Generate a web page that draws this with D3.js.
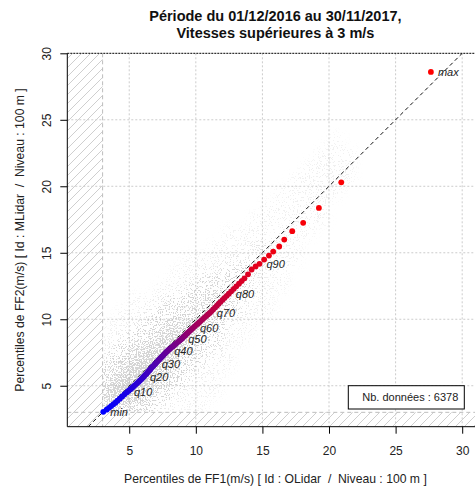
<!DOCTYPE html>
<html><head><meta charset="utf-8">
<script src="https://cdn.jsdelivr.net/npm/d3@7"></script>
<style>
html,body{margin:0;padding:0;background:#fff;}
svg{display:block;font-family:"Liberation Sans",Arial,sans-serif;}
</style></head>
<body><div id="chart"></div>
<script>
// ---- data ----
const titleLines = ["Période du 01/12/2016 au 30/11/2017,", "Vitesses supérieures à 3 m/s"];
const xTitle = "Percentiles de FF1(m/s) [ Id : OLidar  /  Niveau : 100 m ]";
const yTitle = "Percentiles de FF2(m/s) [ Id : MLidar  /  Niveau : 100 m ]";
const tickValues = [5, 10, 15, 20, 25, 30];
const threshold = 3;
const nData = 6378;
const legendText = "Nb. données : " + nData;

// percentiles 0..100 of FF1 (x) and FF2 (y)
const pctX = [3.05,3.30,3.48,3.64,3.80,3.96,4.12,4.29,4.47,4.65,4.83,
  4.96,5.09,5.22,5.34,5.46,5.58,5.70,5.81,5.92,6.03,
  6.12,6.21,6.30,6.38,6.47,6.56,6.64,6.73,6.82,6.91,
  7.00,7.09,7.18,7.28,7.37,7.47,7.56,7.66,7.75,7.85,
  7.95,8.06,8.16,8.27,8.37,8.48,8.58,8.69,8.79,8.90,
  8.98,9.07,9.16,9.25,9.33,9.42,9.51,9.60,9.69,9.78,
  9.90,10.02,10.15,10.27,10.40,10.53,10.65,10.78,10.91,11.04,
  11.17,11.30,11.44,11.58,11.72,11.86,12.01,12.16,12.32,12.48,
  12.66,12.85,13.04,13.24,13.44,13.65,13.92,14.19,14.49,14.78,
  15.13,15.49,15.81,16.26,16.64,17.24,18.06,19.24,20.92,27.65];
const pctY = [3.04,3.20,3.34,3.47,3.60,3.73,3.88,4.03,4.19,4.36,4.52,
  4.63,4.74,4.85,4.96,5.07,5.18,5.29,5.40,5.51,5.62,
  5.72,5.82,5.91,6.01,6.11,6.21,6.31,6.41,6.50,6.60,
  6.70,6.80,6.90,7.00,7.10,7.20,7.30,7.40,7.50,7.60,
  7.69,7.78,7.87,7.96,8.05,8.14,8.23,8.32,8.41,8.50,
  8.58,8.67,8.75,8.84,8.92,9.00,9.09,9.17,9.26,9.34,
  9.45,9.56,9.67,9.78,9.90,10.01,10.13,10.24,10.36,10.47,
  10.60,10.74,10.88,11.02,11.17,11.31,11.46,11.61,11.76,11.92,
  12.10,12.29,12.48,12.67,12.87,13.08,13.38,13.74,13.97,14.17,
  14.49,14.79,15.09,15.47,15.99,16.62,17.25,18.37,20.30,28.60];
const labelIdx = [0,10,20,30,40,50,60,70,80,90,100];
const labelText = ["min","q10","q20","q30","q40","q50","q60","q70","q80","q90","max"];

// raw-data cloud: point coverage level (0-9) in 1 m/s cells, rows y = 3..23, columns x = 3..22
const cloudX0 = 3, cloudY0 = 3;
const cloudRows = [
  "87642111000000000000",
  "79864211100000000000",
  "68986421100000000000",
  "46898532110000000000",
  "24688753210000000000",
  "12457864311000000000",
  "11235675421100000000",
  "01123456532110000000",
  "00112345542110000000",
  "00001123443211000000",
  "00000112233211000000",
  "00000011122221100000",
  "00000000111221100000",
  "00000000011111110000",
  "00000000000111111000",
  "00000000000011111000",
  "00000000000001111100",
  "00000000000000111110",
  "00000000000000011110",
  "00000000000000001110",
  "00000000000000000100"];
const coverage = [0, 0.06, 0.11, 0.18, 0.28, 0.4, 0.52, 0.64, 0.76, 0.88];

// ---- layout ----
const W = 475, H = 488;
const L = 67.3, R = 483.5, T = 53.3, B = 426.7;
const xDom = [0.35, 31.6], yDom = [1.92, 30];

const svg = d3.select("#chart").append("svg").attr("width", W).attr("height", H);
const x = d3.scaleLinear().domain(xDom).range([L, R]);
const y = d3.scaleLinear().domain(yDom).range([B, T]);

const defs = svg.append("defs");
defs.append("clipPath").attr("id","plotclip").append("rect")
  .attr("x", L).attr("y", T).attr("width", R - L).attr("height", B - T);
defs.append("clipPath").attr("id","cloudclip").append("rect")
  .attr("x", x(threshold)).attr("y", T).attr("width", R - x(threshold)).attr("height", y(threshold) - T);
const pat = defs.append("pattern").attr("id","hatch").attr("patternUnits","userSpaceOnUse")
  .attr("width", 9).attr("height", 9);
pat.append("path").attr("d","M-2,2 L2,-2 M0,9 L9,0 M7,11 L11,7")
  .attr("stroke","#cfcfcf").attr("stroke-width",1).attr("fill","none");
// density -> stippled points texture
const f = defs.append("filter").attr("id","grain").attr("filterUnits","userSpaceOnUse")
  .attr("x", 0).attr("y", 0).attr("width", W).attr("height", H);
f.append("feGaussianBlur").attr("in","SourceGraphic").attr("stdDeviation", 4).attr("result","b");
f.append("feTurbulence").attr("type","fractalNoise").attr("baseFrequency", 0.75).attr("numOctaves", 2).attr("seed", 11).attr("result","n");
f.append("feColorMatrix").attr("in","n").attr("type","matrix")
  .attr("values","0 0 0 0 0  0 0 0 0 0  0 0 0 0 0  3.5 0 0 0 -1.25").attr("result","nm");
f.append("feComposite").attr("in","b").attr("in2","nm").attr("operator","arithmetic")
  .attr("k1",0).attr("k2",1).attr("k3",-1).attr("k4",0).attr("result","d");
const ct = f.append("feComponentTransfer").attr("in","d").attr("result","mask");
ct.append("feFuncA").attr("type","linear").attr("slope", 6).attr("intercept", 0);
f.append("feFlood").attr("flood-color","#a6a6a6").attr("flood-opacity", 0.47).attr("result","fl");
f.append("feComposite").attr("in","fl").attr("in2","mask").attr("operator","in");

const plot = svg.append("g").attr("clip-path","url(#plotclip)");

// hatched excluded zones (< threshold)
plot.append("rect").attr("x", L).attr("y", T).attr("width", x(threshold) - L).attr("height", B - T)
  .attr("fill","url(#hatch)");
plot.append("rect").attr("x", x(threshold)).attr("y", y(threshold)).attr("width", R - x(threshold)).attr("height", B - y(threshold))
  .attr("fill","url(#hatch)");

// grid
const grid = plot.append("g").attr("stroke","#cccccc").attr("stroke-width",1).attr("stroke-dasharray","2,2");
tickValues.forEach(v => {
  grid.append("line").attr("x1", x(v)).attr("x2", x(v)).attr("y1", T).attr("y2", B);
  if (v < 30) grid.append("line").attr("x1", L).attr("x2", R).attr("y1", y(v)).attr("y2", y(v));
});
// threshold borders
plot.append("line").attr("x1", x(threshold)).attr("x2", x(threshold)).attr("y1", T).attr("y2", B)
  .attr("stroke","#bdbdbd").attr("stroke-dasharray","4,3");
plot.append("line").attr("x1", L).attr("x2", R).attr("y1", y(threshold)).attr("y2", y(threshold))
  .attr("stroke","#bdbdbd").attr("stroke-dasharray","4,3");

// cloud
const cells = [];
cloudRows.forEach((row, j) => {
  row.split("").forEach((c, i) => {
    const lv = +c;
    if (lv > 0) cells.push({x: cloudX0 + i, y: cloudY0 + j, lv});
  });
});
svg.append("g").attr("clip-path","url(#cloudclip)")
  .append("g").attr("filter","url(#grain)").selectAll("rect").data(cells).join("rect")
  .attr("x", d => x(d.x)).attr("y", d => y(d.y + 1))
  .attr("width", d => x(d.x + 1) - x(d.x)).attr("height", d => y(d.y) - y(d.y + 1))
  .attr("fill", "#000").attr("fill-opacity", d => coverage[d.lv]);

// top dotted line at 30
svg.append("line").attr("x1", L).attr("x2", W).attr("y1", y(30)).attr("y2", y(30))
  .attr("stroke","#000").attr("stroke-dasharray","2,1");

// diagonal y = x
plot.append("line").attr("x1", x(yDom[0])).attr("y1", y(yDom[0])).attr("x2", x(30)).attr("y2", y(30))
  .attr("stroke","#111").attr("stroke-dasharray","4,3");

// quantile points
const pts = pctX.map((v, i) => ({x: v, y: pctY[i], i}));
const col = d3.interpolateRgb("#0000ff", "#ff0000");
svg.append("g").selectAll("circle").data(pts).join("circle")
  .attr("cx", d => x(d.x)).attr("cy", d => y(d.y)).attr("r", 2.9)
  .attr("fill", d => col(d.i / 100));

// labels
svg.append("g").selectAll("text").data(labelIdx).join("text")
  .attr("x", d => x(pctX[d]) + 7).attr("y", d => y(pctY[d]))
  .attr("dy","0.35em").attr("font-size", 11).attr("font-style","italic").attr("fill","#222")
  .text((d, k) => labelText[k]);

// axes
const xAxis = svg.append("g").attr("transform", `translate(0,${B})`)
  .call(d3.axisBottom(x).tickValues(tickValues).tickSize(7).tickSizeOuter(0));
xAxis.select(".domain").remove();
xAxis.selectAll("text").attr("y", 19.8).attr("font-size", 12).attr("font-family","Liberation Sans, Arial, sans-serif").attr("fill","#222");
const yAxis = svg.append("g").attr("transform", `translate(${L},0)`)
  .call(d3.axisLeft(y).tickValues(tickValues).tickSize(7).tickSizeOuter(0));
yAxis.select(".domain").remove();
yAxis.selectAll("text").attr("x", null).attr("dy", "0.35em").attr("text-anchor","middle")
  .attr("transform","translate(-20.6,0) rotate(-90)")
  .attr("font-size", 12).attr("font-family","Liberation Sans, Arial, sans-serif").attr("fill","#222");
// L-shaped box
svg.append("path").attr("d", `M${L},${T}V${B}H${W}`).attr("fill","none").attr("stroke","#000");

// titles
const tt = svg.append("text").attr("text-anchor","middle").attr("font-weight","bold").attr("font-size", 14.5).attr("fill","#111");
titleLines.forEach((t, k) => tt.append("tspan").attr("x", (L + R) / 2).attr("y", 20.5 + 17 * k).text(t));
svg.append("text").attr("x", (L + R) / 2).attr("y", 483).attr("text-anchor","middle").attr("font-size", 12.2).attr("fill","#222")
  .style("white-space","pre").text(xTitle);
svg.append("text").attr("transform", `translate(24,${(T + B) / 2}) rotate(-90)`).attr("text-anchor","middle")
  .attr("font-size", 12.2).attr("fill","#222").style("white-space","pre").text(yTitle);

// legend
svg.append("rect").attr("x", 348.3).attr("y", 385.7).attr("width", 116).attr("height", 23.3)
  .attr("fill","#fff").attr("stroke","#000");
svg.append("text").attr("x", 458.3).attr("y", 397.5).attr("dy","0.35em").attr("text-anchor","end")
  .attr("font-size", 11).attr("fill","#222").text(legendText);
</script></body></html>
